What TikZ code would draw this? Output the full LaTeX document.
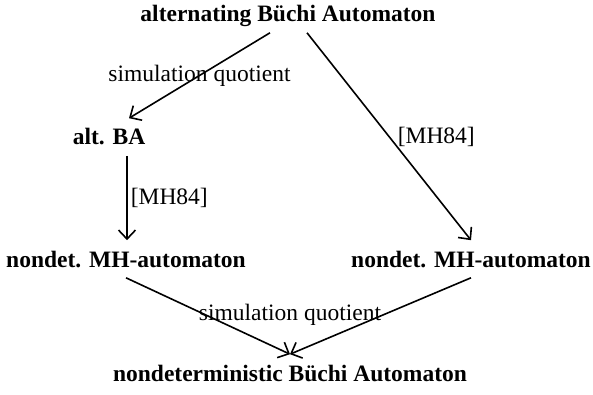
\documentclass[tikz,border=0pt]{standalone}
\usepackage{fontspec}
\setmainfont{Liberation Serif}
\usetikzlibrary{arrows.meta}

\begin{document}
\begin{tikzpicture}[x=1pt,y=1pt,line width=1.6pt,
        >={Straight Barb[length=9pt,width=17pt]},
        aut/.style={font=\fontsize{23.5}{28}\selectfont\bfseries,anchor=base,
            text height=21pt,text depth=5pt,inner sep=5pt},
        lbl/.style={font=\fontsize{23.5}{28}\selectfont,inner sep=0pt}]
        \useasboundingbox (0,0) rectangle (593,394);

        \node[aut] (abw) at (288,372) {alternating Büchi Automaton};
        \node[aut] (aba) at (109,249) {alt. BA};
        \node[aut] (mhl) at (126,127) {nondet. MH-automaton};
        \node[aut] (mhr) at (471,127) {nondet. MH-automaton};
        \node[aut,label={[lbl,label distance=28pt]above:simulation quotient}] (nba)
            at (290,13) {nondeterministic Büchi Automaton};

        \draw[->] ([xshift=-18pt]abw.south) -- ([xshift=20pt]aba.north)
            node[lbl,midway] {simulation quotient};
        \draw[->] ([xshift=19pt]abw.south) -- (mhr.north)
            node[lbl,midway,right,inner sep=8pt] {[MH84]};
        \draw[->] ([xshift=18pt]aba.south) -- ([xshift=1pt]mhl.north)
            node[lbl,midway,right,inner sep=3pt] {[MH84]};
        \draw[->] (mhl.south) -- (nba.north);
        \draw[->] (mhr.south) -- (nba.north);
    \end{tikzpicture}
\end{document}
